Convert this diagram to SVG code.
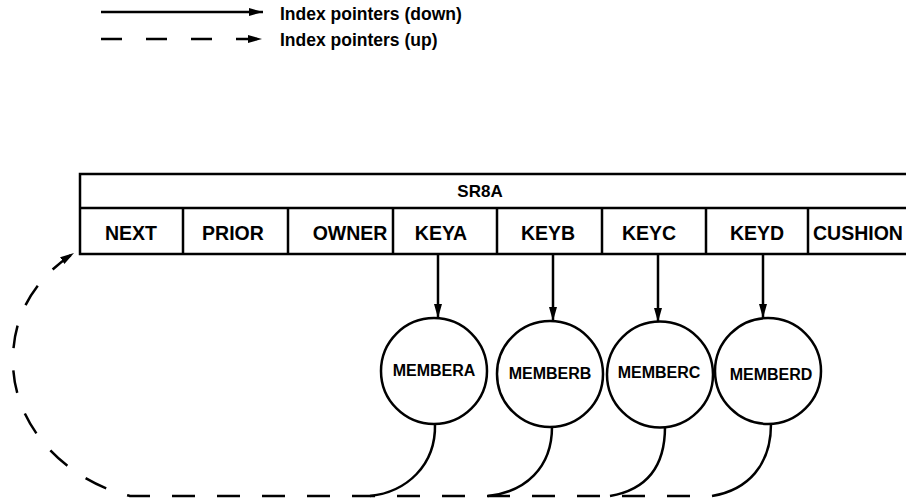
<svg xmlns="http://www.w3.org/2000/svg" width="906" height="498" viewBox="0 0 906 498">
  <style>
    .ln { fill: none; stroke: #000; stroke-width: 2.5; }
    .dash { fill: none; stroke: #000; stroke-width: 2.5; stroke-dasharray: 23 22; }
    .cell { font-family: "Liberation Sans", Arial, sans-serif; font-weight: bold; font-size: 19.5px; fill: #000; }
    .title { font-family: "Liberation Sans", Arial, sans-serif; font-weight: bold; font-size: 17px; fill: #000; }
    .mem { font-family: "Liberation Sans", Arial, sans-serif; font-weight: bold; font-size: 16px; fill: #000; }
    .leg { font-family: "Liberation Sans", Arial, sans-serif; font-weight: bold; font-size: 17.5px; fill: #000; }
    .circ { fill: #fff; stroke: #000; stroke-width: 2.5; }
  </style>
  <defs>
    <marker id="arrow" markerUnits="userSpaceOnUse" markerWidth="16" markerHeight="10" refX="14" refY="5" orient="auto">
      <path d="M0,1 L14,5 L0,9 Z" fill="#000"/>
    </marker>
  </defs>
  <rect width="906" height="498" fill="#fff"/>

  <!-- legend -->
  <g id="legend">
    <path class="ln" d="M101,12 L263,12" marker-end="url(#arrow)"/>
    <text class="leg" x="280" y="20">Index pointers (down)</text>
    <path class="ln" d="M101,39 L262,39" stroke-dasharray="21 24" marker-end="url(#arrow)"/>
    <text class="leg" x="280" y="46">Index pointers (up)</text>
  </g>

  <!-- record SR8A -->
  <g id="record-sr8a">
    <rect class="ln" x="80" y="174" width="840" height="80"/>
    <path class="ln" d="M80,208 L906,208 M183,208 V254 M288,208 V254 M393,208 V254 M497,208 V254 M602,208 V254 M706,208 V254 M808,208 V254"/>
    <text class="title" x="480" y="197" text-anchor="middle">SR8A</text>
    <text class="cell" x="131" y="240" text-anchor="middle">NEXT</text>
    <text class="cell" x="233" y="240" text-anchor="middle">PRIOR</text>
    <text class="cell" x="350" y="240" text-anchor="middle">OWNER</text>
    <text class="cell" x="441" y="240" text-anchor="middle">KEYA</text>
    <text class="cell" x="548" y="240" text-anchor="middle">KEYB</text>
    <text class="cell" x="649" y="240" text-anchor="middle">KEYC</text>
    <text class="cell" x="757" y="240" text-anchor="middle">KEYD</text>
    <text class="cell" x="858" y="240" text-anchor="middle">CUSHION</text>
  </g>

  <!-- member records -->
  <g id="membera">
    <circle class="circ" cx="434" cy="371" r="53"/>
    <text class="mem" x="434" y="376" text-anchor="middle">MEMBERA</text>
  </g>
  <g id="memberb">
    <circle class="circ" cx="550" cy="374" r="53"/>
    <text class="mem" x="550" y="379" text-anchor="middle">MEMBERB</text>
  </g>
  <g id="memberc">
    <circle class="circ" cx="660" cy="374.5" r="53"/>
    <text class="mem" x="659" y="378" text-anchor="middle">MEMBERC</text>
  </g>
  <g id="memberd">
    <circle class="circ" cx="768" cy="371" r="53"/>
    <text class="mem" x="771" y="380" text-anchor="middle">MEMBERD</text>
  </g>

  <!-- connectors -->
  <g id="connectors">
    <path class="ln" d="M438,254 L438,318" marker-end="url(#arrow)"/>
    <path class="ln" d="M553,254 L553,321" marker-end="url(#arrow)"/>
    <path class="ln" d="M658,254 L658,322" marker-end="url(#arrow)"/>
    <path class="ln" d="M763,254 L763,318" marker-end="url(#arrow)"/>

    <path class="ln" d="M435,424 C436,466 406,492 370,496"/>
    <path class="ln" d="M552,427 C552,468 525,492 488,496"/>
    <path class="ln" d="M665,427 C665,468 645,490 610,496"/>
    <path class="ln" d="M771,424 C771,465 748,490 712,496"/>

    <path class="dash" stroke-dashoffset="23" d="M712,496 L130,496 C70,482 14,430 13,363 C12,310 40,275 74,253" marker-end="url(#arrow)"/>
  </g>
</svg>
